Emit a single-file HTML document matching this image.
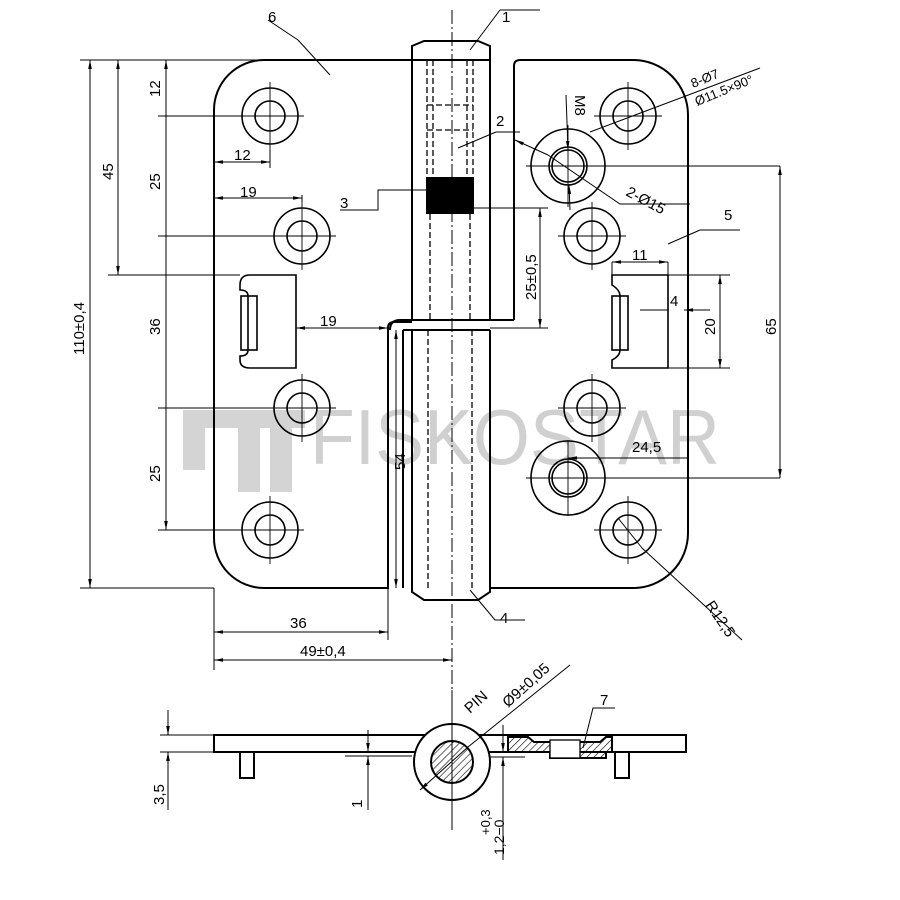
<!DOCTYPE html>
<html><head><meta charset="utf-8"><style>
html,body{margin:0;padding:0;background:#fff}
svg{display:block}
text{font-family:"Liberation Sans",sans-serif;fill:#000}
</style></head><body>
<svg width="900" height="900" viewBox="0 0 900 900" xmlns="http://www.w3.org/2000/svg">
<defs>
<marker id="a" viewBox="0 0 10 10" refX="10" refY="5" markerWidth="9" markerHeight="9" orient="auto-start-reverse"><path d="M0,3 L10,5 L0,7 z" fill="#000"/></marker>
<pattern id="h" width="5" height="5" patternUnits="userSpaceOnUse" patternTransform="rotate(45)"><line x1="0" y1="0" x2="0" y2="5" stroke="#000" stroke-width="1.2"/></pattern>
</defs>

<!-- watermark -->
<g fill="#d4d4d4">
<rect x="183" y="410" width="22" height="60"/><rect x="183" y="410" width="60" height="18"/>
<rect x="238" y="410" width="22" height="82"/><rect x="270" y="410" width="22" height="82"/><rect x="225" y="410" width="80" height="18"/>
</g>
<text x="310" y="464" font-size="78" fill="#d0d0d0" style="fill:#d0d0d0" textLength="410" lengthAdjust="spacingAndGlyphs">FISKOSTAR</text>

<g fill="none" stroke="#000" stroke-width="2">
<!-- left plate -->
<path d="M412,60 H264 A50,50 0 0 0 214,110 V538 A50,50 0 0 0 264,588 H388 V328 Q388,322 394,322 H412"/>
<!-- right plate -->
<path d="M514,320 V66 Q514,60 520,60 H633 A55,55 0 0 1 688,115 V533 A55,55 0 0 1 633,588 H490"/>
<path d="M514,320 H400 Q390,320 390,330"/>
<!-- knuckles -->
<path d="M412,320 V46 L424,41 H478 L490,46 V320"/>
<line x1="412" y1="60" x2="490" y2="60"/>
<path d="M403,330 V588 M412,330 H490 M412,330 V592 L424,600 H478 L490,592 V330"/>
<line x1="403" y1="330" x2="412" y2="330"/>
</g>
<!-- dashed inner pin -->
<g fill="none" stroke="#000" stroke-width="1.3" stroke-dasharray="6,3">
<path d="M427,60 V175 M473,60 V175 M433,60 V175 M467,60 V175"/>
<path d="M427,105 H473 M427,130 H473"/>
<path d="M430,214 V320 M470,214 V320 M428,330 V588 M472,330 V588"/>
</g>
<rect x="426" y="177" width="48" height="37" fill="#000"/>
<line x1="452" y1="10" x2="452" y2="690" stroke="#000" stroke-width="1" stroke-dasharray="14,3,2,3"/>

<!-- holes -->
<g fill="none" stroke="#000" stroke-width="1.6">
<circle cx="270" cy="116" r="28"/><circle cx="270" cy="116" r="15"/>
<circle cx="302" cy="236" r="28"/><circle cx="302" cy="236" r="15"/>
<circle cx="302" cy="408" r="28"/><circle cx="302" cy="408" r="15"/>
<circle cx="270" cy="530" r="28"/><circle cx="270" cy="530" r="15"/>
<circle cx="628" cy="116" r="28"/><circle cx="628" cy="116" r="15"/>
<circle cx="592" cy="236" r="28"/><circle cx="592" cy="236" r="15"/>
<circle cx="592" cy="408" r="28"/><circle cx="592" cy="408" r="15"/>
<circle cx="628" cy="530" r="28"/><circle cx="628" cy="530" r="15"/>
<circle cx="568" cy="166" r="37"/><circle cx="568" cy="166" r="19"/><circle cx="568" cy="166" r="16"/>
<circle cx="568" cy="478" r="37"/><circle cx="568" cy="478" r="19"/><circle cx="568" cy="478" r="16"/>
<!-- slots -->
<path d="M296,275 H250 Q240,275 240,285 V290 Q248,290 248,296 V350 Q248,356 240,356 V360 Q240,368 250,368 H296 Z"/>
<rect x="241" y="296" width="16" height="54"/>
<path d="M612,275 V285 Q620,290 620,296 V350 Q620,356 612,360 V368 H668 V275 Z"/>
<rect x="612" y="296" width="16" height="54"/>
</g>
<!-- centerlines -->
<g stroke="#000" stroke-width="0.9">
<path d="M236,116 H304 M270,82 V150 M268,236 H336 M302,202 V270 M268,408 H336 M302,374 V442 M236,530 H304 M270,496 V564"/>
<path d="M594,116 H662 M628,82 V150 M558,236 H626 M592,202 V270 M558,408 H626 M592,374 V442 M594,530 H662 M628,496 V564"/>
<path d="M526,166 H780 M568,125 V207 M526,478 H780 M568,440 V516"/>
</g>

<!-- dimension lines -->
<g stroke="#000" stroke-width="1" fill="none">
<path d="M80,60 H412 M80,588 H214 M108,275 H240 M158,116 H236 M158,236 H268 M158,408 H268 M158,530 H236"/>
<path d="M90,60 V588" marker-start="url(#a)" marker-end="url(#a)"/>
<path d="M118,60 V275" marker-start="url(#a)" marker-end="url(#a)"/>
<path d="M166,60 V116 M166,116 V236 M166,236 V408 M166,408 V530" marker-start="url(#a)" marker-end="url(#a)"/>
<path d="M214,162 H270" marker-start="url(#a)" marker-end="url(#a)"/>
<path d="M270,150 V168 M302,202 V195 M214,588 V670 M388,588 V640"/>
<path d="M214,198 H302" marker-start="url(#a)" marker-end="url(#a)"/>
<path d="M296,328 H388" marker-start="url(#a)" marker-end="url(#a)"/>
<path d="M214,632 H388" marker-start="url(#a)" marker-end="url(#a)"/>
<path d="M214,660 H452" marker-start="url(#a)" marker-end="url(#a)"/>
<path d="M396,330 V588" marker-start="url(#a)" marker-end="url(#a)"/>
<path d="M474,208 H548 M490,328 H548"/>
<path d="M540,208 V328" marker-start="url(#a)" marker-end="url(#a)"/>
<path d="M612,262 H668" marker-start="url(#a)" marker-end="url(#a)"/>
<path d="M612,262 V275 M668,262 V275"/>
<path d="M640,310 H668 M710,310 H684" marker-end="url(#a)"/>
<path d="M668,275 H730 M668,368 H730"/>
<path d="M720,275 V368" marker-start="url(#a)" marker-end="url(#a)"/>
<path d="M780,166 V478" marker-start="url(#a)" marker-end="url(#a)"/>
<path d="M568,458 H688" marker-start="url(#a)"/>
<!-- leaders -->
<path d="M298,40 L330,75 M268,20 L298,40"/>
<path d="M500,10 H540 M500,10 L470,50"/>
<path d="M496,132 H520 M496,132 L458,148"/>
<path d="M340,210 H378 V190 H426"/>
<path d="M700,230 H740 M700,230 L668,244"/>
<path d="M470,590 L495,620 H525"/>
<path d="M515,140 L548,155 M548,155 L620,204 H690" marker-start="url(#a)"/>
<path d="M566,95 L568,150" marker-end="url(#a)"/>
<path d="M570,210 L569,185" marker-end="url(#a)"/>
<path d="M590,132 L760,68"/>
<path d="M642,548 L742,640 M618,518 L642,548"/>
</g>

<!-- texts -->
<g font-size="15">
<text x="268" y="22">6</text>
<text x="502" y="22">1</text>
<text x="496" y="126">2</text>
<text x="340" y="208">3</text>
<text x="724" y="220">5</text>
<text x="500" y="623">4</text>
<text x="600" y="705">7</text>
<text x="234" y="160">12</text>
<text x="240" y="197">19</text>
<text x="320" y="326">19</text>
<text x="290" y="628">36</text>
<text x="300" y="656">49±0,4</text>
<text x="632" y="260">11</text>
<text x="670" y="306">4</text>
<text x="632" y="452">24,5</text>
<text transform="translate(84,355) rotate(-90)">110±0,4</text>
<text transform="translate(113,180) rotate(-90)">45</text>
<text transform="translate(160,97) rotate(-90)">12</text>
<text transform="translate(160,190) rotate(-90)">25</text>
<text transform="translate(160,335) rotate(-90)">36</text>
<text transform="translate(160,482) rotate(-90)">25</text>
<text transform="translate(405,470) rotate(-90)">54</text>
<text transform="translate(536,300) rotate(-90)">25±0,5</text>
<text transform="translate(715,335) rotate(-90)">20</text>
<text transform="translate(776,335) rotate(-90)">65</text>
<text transform="translate(575,95) rotate(90)">M8</text>
<text transform="translate(625,195) rotate(28)">2-Ø15</text>
<text transform="translate(693,88) rotate(-22)" font-size="13">8-Ø7</text>
<text transform="translate(697,106) rotate(-22)" font-size="13">Ø11.5×90°</text>
<text transform="translate(705,605) rotate(56)">R12,5</text>
</g>

<!-- bottom view -->
<g stroke="#000" stroke-width="2" fill="none">
<rect x="214" y="735" width="472" height="17" fill="#fff"/>
<rect x="240" y="752" width="14" height="26"/>
<rect x="615" y="752" width="14" height="26"/>
<circle cx="452" cy="762" r="38" fill="#fff"/>
<circle cx="452" cy="762" r="21" fill="url(#h)"/>
<path d="M508,737 H528 L534,742 H600 L606,737 H612 V752 H606 V758 H550 V752 H508 Z" fill="url(#h)"/>
<rect x="550" y="740" width="30" height="18" fill="#fff" stroke-width="1.3"/>
</g>
<g stroke="#000" stroke-width="1" fill="none">
<path d="M160,735 H214 M160,752 H214"/>
<path d="M168,710 V735" marker-end="url(#a)"/>
<path d="M168,775 V752" marker-end="url(#a)"/>
<path d="M168,752 V810"/>
<path d="M368,730 V752" marker-end="url(#a)"/>
<path d="M368,810 V756" marker-end="url(#a)"/>
<path d="M345,756 H412"/>
<path d="M503,725 V752" marker-end="url(#a)"/>
<path d="M503,860 V757" marker-end="url(#a)"/>
<path d="M490,757 H525"/>
<path d="M420,790 L468,747 L570,665" marker-start="url(#a)"/>
<path d="M583,748 L593,708 H615"/>
<path d="M452,690 V830"/>
</g>
<g font-size="15">
<text transform="translate(164,805) rotate(-90)">3,5</text>
<text transform="translate(362,808) rotate(-90)">1</text>
<text transform="translate(470,714) rotate(-42)">PIN</text>
<text transform="translate(508,708) rotate(-42)">Ø9±0,05</text>
<text transform="translate(490,835) rotate(-90)" font-size="13">+0,3</text>
<text transform="translate(504,855) rotate(-90)" font-size="14">1,2−0</text>
</g>
</svg>
</body></html>
